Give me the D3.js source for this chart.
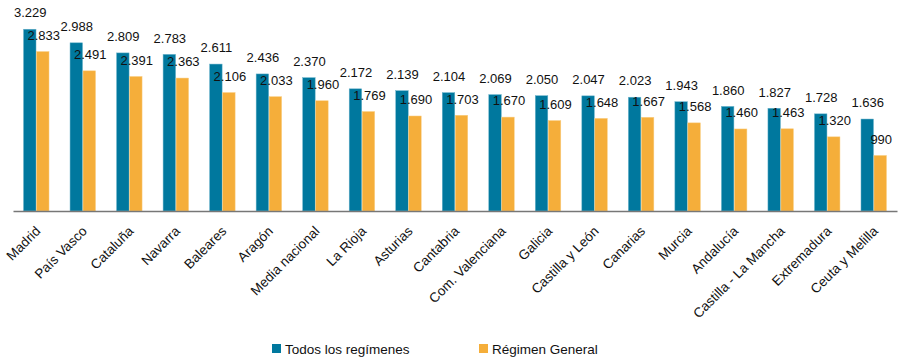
<!DOCTYPE html>
<html>
<head>
<meta charset="utf-8">
<script src="https://cdn.jsdelivr.net/npm/d3@7"></script>
<style>
  html, body { margin: 0; padding: 0; background: #fff; }
  svg { display: block; font-family: "Liberation Sans", Arial, Helvetica, sans-serif; }
</style>
</head>
<body>
<svg id="chart" width="904" height="360"></svg>
<script>
const categories = ["Madrid", "País Vasco", "Cataluña", "Navarra", "Baleares", "Aragón", "Media nacional", "La Rioja", "Asturias", "Cantabria", "Com. Valenciana", "Galicia", "Castilla y León", "Canarias", "Murcia", "Andalucía", "Castilla - La Mancha", "Extremadura", "Ceuta y Melilla"];
const todosValues = [3229, 2988, 2809, 2783, 2611, 2436, 2370, 2172, 2139, 2104, 2069, 2050, 2047, 2023, 1943, 1860, 1827, 1728, 1636];
const generalValues = [2833, 2491, 2391, 2363, 2106, 2033, 1960, 1769, 1690, 1703, 1670, 1609, 1648, 1667, 1568, 1460, 1463, 1320, 990];
const seriesNames = ["Todos los regímenes", "Régimen General"];
const seriesColors = ["#00789e", "#f5ae3a"];
const seriesStroke = ["#6bb3cb", "#f9cf86"];

const svg = d3.select("#chart");
const left = 13, right = 897, baseY = 211;

const x = d3.scaleBand().domain(categories).range([left, right]).paddingInner(0).paddingOuter(0);
const xs = d3.scaleBand().domain([0, 1]).range([0, 26]);
const y = d3.scaleLinear().domain([0, 3500]).range([baseY, baseY - 3500 * 0.05637]);

const fmt = v => {
  const s = String(v);
  return s.length > 3 ? s.slice(0, s.length - 3) + "." + s.slice(s.length - 3) : s;
};

const series = [todosValues, generalValues];
series.forEach((vals, si) => {
  const g = svg.append("g");
  g.selectAll("rect").data(vals).join("rect")
    .attr("x", (d, i) => x(categories[i]) + x.bandwidth() / 2 - 13 + xs(si) + 0.25)
    .attr("y", d => y(d) + 0.25)
    .attr("width", xs.bandwidth() - 0.5)
    .attr("height", d => baseY - y(d) - 0.25)
    .attr("fill", seriesColors[si])
    .attr("stroke", seriesStroke[si])
    .attr("stroke-width", 0.5);
});
series.forEach((vals, si) => {
  svg.append("g").selectAll("text").data(vals).join("text")
    .attr("x", (d, i) => x(categories[i]) + x.bandwidth() / 2 - 13 + xs(si) + xs.bandwidth() / 2 + (si === 1 ? 1 : 0.5))
    .attr("y", d => y(d) - 11.5)
    .attr("text-anchor", "middle")
    .attr("font-size", 13)
    .attr("fill", "#111")
    .text(d => fmt(d));
});

// axis
const axis = d3.axisBottom(x).tickSize(0).tickPadding(0);
const ax = svg.append("g").attr("transform", `translate(0,${baseY})`).call(axis);
ax.select(".domain").attr("stroke", "#777").attr("stroke-width", 1.5);
ax.selectAll(".tick text")
  .attr("font-size", 13.5)
  .attr("fill", "#111")
  .attr("font-family", "\"Liberation Sans\", Arial, sans-serif")
  .attr("text-anchor", "end")
  .attr("dy", 0)
  .attr("transform", "translate(5,21) rotate(-45)");

// legend
const legendX = [272, 479];
seriesNames.forEach((n, i) => {
  svg.append("rect").attr("x", legendX[i]).attr("y", 344).attr("width", 9).attr("height", 9).attr("fill", seriesColors[i]);
  svg.append("text").attr("x", legendX[i] + 13).attr("y", 354).attr("font-size", 13.5).attr("fill", "#111").text(n);
});
</script>
</body>
</html>
